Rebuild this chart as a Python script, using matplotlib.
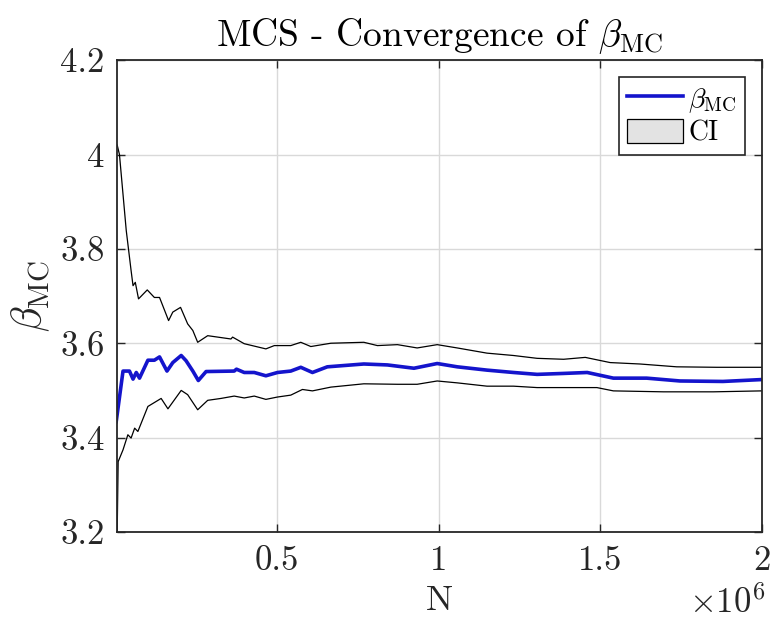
import matplotlib
matplotlib.use('Agg')

import numpy as np
import matplotlib.pyplot as plt
from matplotlib.patches import Patch
from matplotlib.lines import Line2D

plt.rcParams['font.family'] = 'serif'
plt.rcParams['font.serif'] = ['cmr10']
plt.rcParams['mathtext.fontset'] = 'cm'
plt.rcParams['axes.formatter.use_mathtext'] = True

# samples, N in units of 1e6
n_beta = [0.003, 0.024, 0.044, 0.055, 0.065, 0.075, 0.101, 0.121, 0.137, 0.160,
          0.178, 0.204, 0.219, 0.240, 0.257, 0.281, 0.368, 0.375, 0.399, 0.430,
          0.466, 0.502, 0.543, 0.574, 0.610, 0.656, 0.769, 0.842, 0.924, 0.996,
          1.058, 1.150, 1.232, 1.305, 1.387, 1.460, 1.541, 1.644, 1.747, 1.880,
          2.0]
beta = [3.434, 3.541, 3.541, 3.524, 3.538, 3.526, 3.564, 3.564, 3.571, 3.541,
        3.559, 3.574, 3.563, 3.541, 3.521, 3.540, 3.541, 3.545, 3.538, 3.538,
        3.531, 3.538, 3.541, 3.549, 3.538, 3.550, 3.556, 3.554, 3.547, 3.557,
        3.550, 3.543, 3.538, 3.534, 3.536, 3.538, 3.526, 3.526, 3.520, 3.519,
        3.523]

n_up = [0.006, 0.013, 0.034, 0.049, 0.055, 0.062, 0.072, 0.099, 0.121, 0.137,
        0.165, 0.178, 0.202, 0.224, 0.240, 0.255, 0.286, 0.358, 0.363, 0.399,
        0.466, 0.492, 0.543, 0.574, 0.605, 0.667, 0.769, 0.811, 0.873, 0.934,
        0.996, 1.058, 1.150, 1.232, 1.305, 1.387, 1.454, 1.531, 1.623, 1.737,
        1.860, 2.0]
ci_up = [4.02, 4.000, 3.839, 3.754, 3.722, 3.729, 3.694, 3.713, 3.697, 3.697,
         3.648, 3.666, 3.676, 3.641, 3.627, 3.602, 3.616, 3.609, 3.613, 3.599,
         3.588, 3.595, 3.595, 3.602, 3.593, 3.600, 3.602, 3.595, 3.597, 3.590,
         3.597, 3.590, 3.579, 3.574, 3.568, 3.566, 3.570, 3.559, 3.556, 3.550,
         3.549, 3.549]

n_lo = [0.006, 0.009, 0.024, 0.039, 0.049, 0.060, 0.070, 0.101, 0.142, 0.163,
        0.204, 0.224, 0.255, 0.286, 0.327, 0.368, 0.399, 0.430, 0.466, 0.502,
        0.543, 0.579, 0.610, 0.667, 0.769, 0.873, 0.934, 0.996, 1.058, 1.150,
        1.232, 1.305, 1.387, 1.490, 1.541, 1.696, 1.850, 2.0]
ci_lo = [3.200, 3.349, 3.374, 3.406, 3.399, 3.420, 3.413, 3.466, 3.483, 3.461,
         3.500, 3.491, 3.459, 3.479, 3.483, 3.488, 3.484, 3.488, 3.481, 3.486,
         3.490, 3.502, 3.499, 3.507, 3.514, 3.513, 3.513, 3.520, 3.516, 3.509,
         3.509, 3.506, 3.506, 3.506, 3.499, 3.497, 3.497, 3.499]

fig = plt.figure(figsize=(7.71, 6.2), dpi=100)
ax = fig.add_axes([0.152, 0.142, 0.836, 0.761])

ax.plot(np.array(n_up) * 1e6, ci_up, color='black', lw=0.9)
ax.plot(np.array(n_lo) * 1e6, ci_lo, color='black', lw=0.9)
ax.plot(np.array(n_beta) * 1e6, beta, color='#1414cc', lw=2.6)

ax.set_xlim(0.006e6, 2e6)
ax.set_ylim(3.2, 4.2)
ax.set_xticks([0.5e6, 1e6, 1.5e6, 2e6])
ax.set_xticklabels(['0.5', '1', '1.5', '2'])
ax.set_yticks([3.2, 3.4, 3.6, 3.8, 4.0, 4.2])
ax.set_yticklabels(['3.2', '3.4', '3.6', '3.8', '4', '4.2'])
ax.tick_params(direction='in', top=True, right=True, labelsize=25, length=6,
               width=1, colors='#262626')
ax.tick_params(axis='x', pad=10)
ax.tick_params(axis='y', pad=9)
ax.grid(True, color='#d9d9d9', lw=1)
for s in ax.spines.values():
    s.set_linewidth(1.3)
    s.set_color('#262626')

ax.set_xlabel('N', fontsize=26, labelpad=6, color='#262626')
ax.set_ylabel(r'$\beta_{\rm MC}$', fontsize=30, labelpad=6, color='#262626')
ax.set_title(r'MCS - Convergence of $\beta_{\rm MC}$', fontsize=27, pad=10)
ax.text(1.005, -0.112, r'$\times10^{6}$', transform=ax.transAxes, ha='right',
        va='top', fontsize=25, color='#262626')

handles = [Line2D([], [], color='#1414cc', lw=2.6),
           Patch(facecolor='#e3e3e3', edgecolor='black', lw=0.9)]
leg = ax.legend(handles, [r'$\beta_{\rm MC}$', 'CI'], loc='upper right',
                fontsize=20, fancybox=False, framealpha=1, edgecolor='#262626',
                handlelength=2.0, handleheight=0.95, handletextpad=0.2,
                borderpad=0.3, labelspacing=0.15, borderaxespad=0.6)
leg.get_frame().set_linewidth(1.2)

fig.savefig('out.png', dpi=100)
